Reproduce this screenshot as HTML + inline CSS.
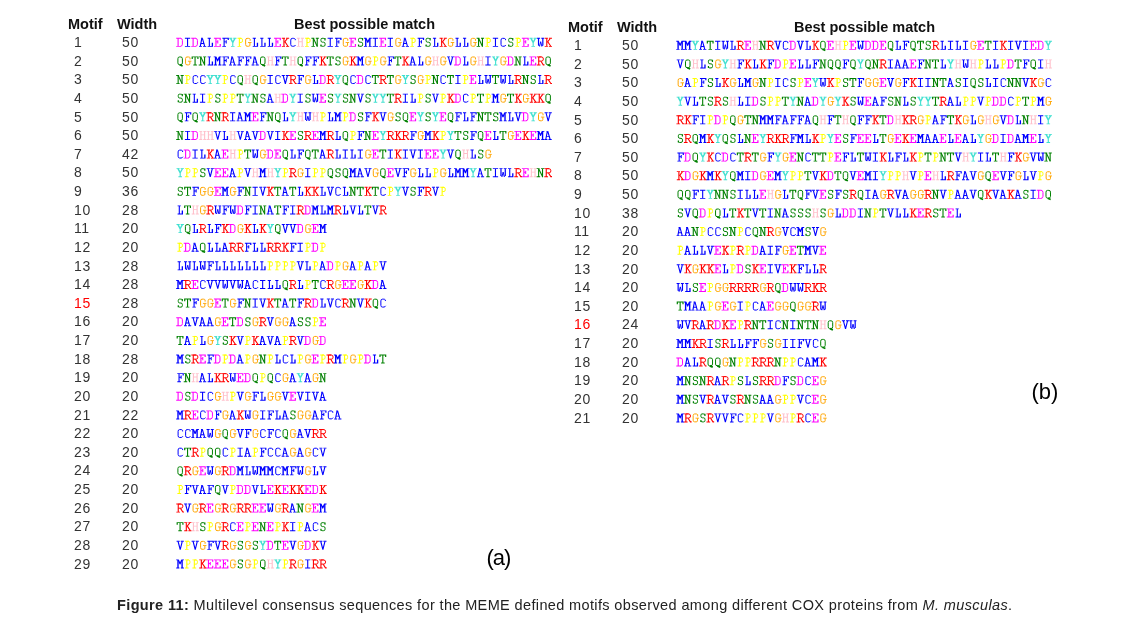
<!DOCTYPE html>
<html><head><meta charset="utf-8"><style>
html,body{margin:0;padding:0;background:#fff;}
body{width:1127px;height:617px;position:relative;overflow:hidden;}
.wrap{position:absolute;left:0;top:0;width:1127px;height:617px;will-change:transform}
.tbl{position:absolute;width:500px;height:580px;}
.hd{position:absolute;font-family:"Liberation Sans",sans-serif;font-weight:bold;font-size:14.5px;color:#111;top:17px;line-height:1;white-space:nowrap;letter-spacing:0px}
.hd.hm{left:68px} .hd.hw{left:117px} .hd.hb{left:294px}
.num{position:absolute;font-family:"Liberation Sans",sans-serif;font-size:14px;color:#333;line-height:1;white-space:nowrap;letter-spacing:0.6px}
.mn{left:74px} .wn{left:122px}
.red{color:#f00}
.seq{position:absolute;left:176px;font-family:"Liberation Mono",monospace;font-size:12.52px;font-weight:bold;line-height:1;white-space:nowrap;letter-spacing:0px}
i{font-style:normal}
.ov{position:absolute;left:0;top:0;filter:blur(0.3px)}
.b{color:#0000ff} .g{color:#008000} .m{color:#ff00ff} .r{color:#ff0000}
.o{color:#ffa500} .y{color:#ffff00} .p{color:#ffc0cb} .c{color:#40e0d0}
.lab{position:absolute;font-family:"Liberation Sans",sans-serif;font-size:22px;color:#000;line-height:1}
.cap{position:absolute;left:117px;top:597.5px;font-family:"Liberation Sans",sans-serif;font-size:14.5px;color:#222;white-space:nowrap;line-height:1;letter-spacing:0.37px}
</style></head><body><div class="wrap">
<svg class="ov" width="1127" height="617" viewBox="0 0 1127 617"><defs><g id="gI" fill="currentColor"><path d="M1.1 0H6.4V0.9H1.1ZM1.1 8.1H6.4V9H1.1ZM3.2 0H4.3V9H3.2Z"/></g><g id="gD" fill="currentColor"><path d="M-0.1 0H4.6V0.9H-0.1ZM-0.1 8.1H4.6V9H-0.1ZM1.25 0H2.35V9H1.25Z"/><path fill="none" stroke="currentColor" stroke-linejoin="round" stroke-width="1" d="M4.2,0.55 Q6.1,0.55 6.1,2.6 V6.4 Q6.1,8.45 4.2,8.45"/></g><g id="gA" fill="currentColor"><path d="M2.2 0H4V0.9H2.2ZM2 5.25H5.3V6.15H2ZM0.2 8.1H3.1V9H0.2ZM4.2 8.1H7.4V9H4.2Z"/><path fill="none" stroke="currentColor" stroke-linejoin="round" stroke-width="1.1" d="M3.0,0.6 L1.5,8.3 M3.6,0.6 L5.8,8.3"/></g><g id="gL" fill="currentColor"><path d="M1.3 0H4.5V0.9H1.3ZM2.45 0H3.55V9H2.45ZM1.3 8.1H6.7V9H1.3ZM5.4 5H6.7V9H5.4Z"/></g><g id="gE" fill="currentColor"><path d="M0.1 0H6.9V0.9H0.1ZM1.55 0H2.65V9H1.55ZM0.1 8.1H7V9H0.1ZM5.75 0H6.95V2.4H5.75ZM5.8 6.2H7V9H5.8ZM2.1 3.65H4.2V4.55H2.1ZM3.45 2.5H4.45V5.8H3.45Z"/></g><g id="gF" fill="currentColor"><path d="M1 0H7.5V0.9H1ZM2.2 0H3.3V9H2.2ZM1 8.1H4.6V9H1ZM6.3 0H7.5V2.3H6.3ZM2.75 3.65H5V4.55H2.75ZM4.35 2.4H5.35V5.7H4.35Z"/></g><g id="gY" fill="currentColor"><path d="M0.2 0H3.4V0.9H0.2ZM4.3 0H7.6V0.9H4.3ZM3.35 4.2H4.45V9H3.35ZM2.1 8.1H5.7V9H2.1Z"/><path fill="none" stroke="currentColor" stroke-linejoin="round" stroke-width="1.45" d="M1.7,0.5 L3.9,4.5"/><path fill="none" stroke="currentColor" stroke-linejoin="round" stroke-width="1.35" d="M6.1,0.5 L3.9,4.5"/></g><g id="gP" fill="currentColor"><path d="M1.1 0H5V0.9H1.1ZM2.45 0H3.55V9H2.45ZM1.1 8.1H4.8V9H1.1Z"/><path fill="none" stroke="currentColor" stroke-linejoin="round" stroke-width="1" d="M3.0,0.55 H4.8 Q6.1,0.55 6.1,2.2 V3.0 Q6.1,4.7 4.8,4.7 H3.0"/></g><g id="gG" fill="currentColor"><path d="M4.1 4.3H7.6V5.2H4.1Z"/><path fill="none" stroke="currentColor" stroke-linejoin="round" stroke-width="1" d="M6.25,3.0 V1.2 Q5.6,0.55 4.8,0.55 H3.2 Q1.75,0.55 1.75,2.2 V6.8 Q1.75,8.45 3.2,8.45 H4.8 Q6.05,8.45 6.05,7.4 V4.8"/></g><g id="gK" fill="currentColor"><path d="M0.4 0H3.6V0.9H0.4ZM1.95 0H3.05V9H1.95ZM0.4 8.1H3.6V9H0.4ZM4.6 0H7.7V0.9H4.6ZM4.6 8.1H7.7V9H4.6Z"/><path fill="none" stroke="currentColor" stroke-linejoin="round" stroke-width="1.1" d="M6.0,0.7 L2.9,4.6 M3.5,4.0 L6.5,8.4"/></g><g id="gC" fill="currentColor"><path fill="none" stroke="currentColor" stroke-linejoin="round" stroke-width="1" d="M6.3,2.4 V1.3 Q5.6,0.55 4.8,0.55 H3.3 Q1.8,0.55 1.8,2.3 V6.7 Q1.8,8.45 3.3,8.45 H4.9 Q5.9,8.45 6.6,7.2"/></g><g id="gH" fill="currentColor"><path d="M0.4 0H3.4V0.9H0.4ZM4.4 0H7.5V0.9H4.4ZM1.55 0H2.65V9H1.55ZM5.25 0H6.35V9H5.25ZM2.1 3.45H5.8V4.35H2.1ZM0.4 8.1H3.4V9H0.4ZM4.4 8.1H7.5V9H4.4Z"/></g><g id="gN" fill="currentColor"><path d="M-0.1 0H2.8V0.9H-0.1ZM4.3 0H7.4V0.9H4.3ZM1.3 0H2.4V9H1.3ZM5.2 0H6.3V9H5.2ZM-0.1 8.1H3.4V9H-0.1Z"/><path fill="none" stroke="currentColor" stroke-linejoin="round" stroke-width="1.1" d="M2.0,0.7 L5.7,8.4"/></g><g id="gS" fill="currentColor"><path d="M5.4 0.3H6.6V2.6H5.4ZM1.4 6.6H2.6V8.6H1.4Z"/><path fill="none" stroke="currentColor" stroke-linejoin="round" stroke-width="1" d="M6.0,1.3 Q5.5,0.5 4.2,0.5 H3.1 Q1.95,0.5 1.95,1.8 V2.8 Q1.95,4.4 3.5,4.4 H4.6 Q6.1,4.4 6.1,6.0 V7.0 Q6.1,8.5 4.6,8.5 H3.2 Q2.3,8.5 1.9,7.6"/></g><g id="gM" fill="currentColor"><path d="M-0.1 0H2.3V0.9H-0.1ZM5.2 0H7.6V0.9H5.2ZM1.02 0H2.38V9H1.02ZM5.12 0H6.47V9H5.12ZM-0.1 8.1H3.1V9H-0.1ZM4.5 8.1H7.6V9H4.5Z"/><path fill="none" stroke="currentColor" stroke-linejoin="round" stroke-width="1.3" d="M2.0,0.6 L3.75,4.4 L5.5,0.6"/></g><g id="gQ" fill="currentColor"><path fill="none" stroke="currentColor" stroke-linejoin="round" stroke-width="1" d="M3.1,0.55 H4.5 Q6.1,0.55 6.1,2.3 V6.5 Q6.1,8.25 4.5,8.25 H3.1 Q1.6,8.25 1.6,6.5 V2.3 Q1.6,0.55 3.1,0.55 Z"/><path fill="none" stroke="currentColor" stroke-linejoin="round" stroke-width="1.7" d="M3.3,8.4 L6.3,9.6"/></g><g id="gT" fill="currentColor"><path d="M0.3 0H7.2V0.9H0.3ZM0.3 0H1.5V2.6H0.3ZM6 0H7.2V2.6H6ZM3.2 0H4.3V9H3.2ZM2 8.1H5.6V9H2Z"/></g><g id="gR" fill="currentColor"><path d="M0 0H4.8V0.9H0ZM1.4 0H2.5V9H1.4ZM0 8.1H3.7V9H0Z"/><path fill="none" stroke="currentColor" stroke-linejoin="round" stroke-width="1" d="M1.95,0.55 H4.8 Q6.6,0.55 6.6,2.6 Q6.6,4.65 4.8,4.65 H1.95"/><path fill="none" stroke="currentColor" stroke-linejoin="round" stroke-width="1.1" d="M4.2,4.8 L6.5,8.45 H7.7"/></g><g id="gV" fill="currentColor"><path d="M0.3 0H3.4V0.9H0.3ZM4.4 0H7.5V0.9H4.4Z"/><path fill="none" stroke="currentColor" stroke-linejoin="round" stroke-width="1.1" d="M1.8,0.7 L3.9,8.7 M5.9,0.7 L3.9,8.7"/></g><g id="gW" fill="currentColor"><path d="M0.2 0H3.3V0.9H0.2ZM4.5 0H7.4V0.9H4.5ZM1.15 0H2.35V7.8H1.15ZM5.45 0H6.65V7.8H5.45Z"/><path fill="none" stroke="currentColor" stroke-linejoin="round" stroke-width="0.95" d="M2.0,7.4 L2.75,8.5 L3.9,3.9 L5.05,8.5 L5.8,7.4"/></g></defs><g transform="translate(176.3 37.8)"><use href="#gD" x="0" class="m"/><use href="#gI" x="7.51" class="b"/><use href="#gD" x="15.02" class="m"/><use href="#gA" x="22.53" class="b"/><use href="#gL" x="30.04" class="b"/><use href="#gE" x="37.55" class="m"/><use href="#gF" x="45.06" class="b"/><use href="#gY" x="52.57" class="c"/><use href="#gP" x="60.08" class="y"/><use href="#gG" x="67.59" class="o"/><use href="#gL" x="75.1" class="b"/><use href="#gL" x="82.61" class="b"/><use href="#gL" x="90.12" class="b"/><use href="#gE" x="97.63" class="m"/><use href="#gK" x="105.14" class="r"/><use href="#gC" x="112.65" class="b"/><use href="#gH" x="120.16" class="p"/><use href="#gP" x="127.67" class="y"/><use href="#gN" x="135.18" class="g"/><use href="#gS" x="142.69" class="g"/><use href="#gI" x="150.2" class="b"/><use href="#gF" x="157.71" class="b"/><use href="#gG" x="165.22" class="o"/><use href="#gE" x="172.73" class="m"/><use href="#gS" x="180.24" class="g"/><use href="#gM" x="187.75" class="b"/><use href="#gI" x="195.26" class="b"/><use href="#gE" x="202.77" class="m"/><use href="#gI" x="210.28" class="b"/><use href="#gG" x="217.79" class="o"/><use href="#gA" x="225.3" class="b"/><use href="#gP" x="232.81" class="y"/><use href="#gF" x="240.32" class="b"/><use href="#gS" x="247.83" class="g"/><use href="#gL" x="255.34" class="b"/><use href="#gK" x="262.85" class="r"/><use href="#gG" x="270.36" class="o"/><use href="#gL" x="277.87" class="b"/><use href="#gL" x="285.38" class="b"/><use href="#gG" x="292.89" class="o"/><use href="#gN" x="300.4" class="g"/><use href="#gP" x="307.91" class="y"/><use href="#gI" x="315.42" class="b"/><use href="#gC" x="322.93" class="b"/><use href="#gS" x="330.44" class="g"/><use href="#gP" x="337.95" class="y"/><use href="#gE" x="345.46" class="m"/><use href="#gY" x="352.97" class="c"/><use href="#gW" x="360.48" class="b"/><use href="#gK" x="367.99" class="r"/></g><g transform="translate(176.3 56.43)"><use href="#gQ" x="0" class="g"/><use href="#gG" x="7.51" class="o"/><use href="#gT" x="15.02" class="g"/><use href="#gN" x="22.53" class="g"/><use href="#gL" x="30.04" class="b"/><use href="#gM" x="37.55" class="b"/><use href="#gF" x="45.06" class="b"/><use href="#gA" x="52.57" class="b"/><use href="#gF" x="60.08" class="b"/><use href="#gF" x="67.59" class="b"/><use href="#gA" x="75.1" class="b"/><use href="#gQ" x="82.61" class="g"/><use href="#gH" x="90.12" class="p"/><use href="#gF" x="97.63" class="b"/><use href="#gT" x="105.14" class="g"/><use href="#gH" x="112.65" class="p"/><use href="#gQ" x="120.16" class="g"/><use href="#gF" x="127.67" class="b"/><use href="#gF" x="135.18" class="b"/><use href="#gK" x="142.69" class="r"/><use href="#gT" x="150.2" class="g"/><use href="#gS" x="157.71" class="g"/><use href="#gG" x="165.22" class="o"/><use href="#gK" x="172.73" class="r"/><use href="#gM" x="180.24" class="b"/><use href="#gG" x="187.75" class="o"/><use href="#gP" x="195.26" class="y"/><use href="#gG" x="202.77" class="o"/><use href="#gF" x="210.28" class="b"/><use href="#gT" x="217.79" class="g"/><use href="#gK" x="225.3" class="r"/><use href="#gA" x="232.81" class="b"/><use href="#gL" x="240.32" class="b"/><use href="#gG" x="247.83" class="o"/><use href="#gH" x="255.34" class="p"/><use href="#gG" x="262.85" class="o"/><use href="#gV" x="270.36" class="b"/><use href="#gD" x="277.87" class="m"/><use href="#gL" x="285.38" class="b"/><use href="#gG" x="292.89" class="o"/><use href="#gH" x="300.4" class="p"/><use href="#gI" x="307.91" class="b"/><use href="#gY" x="315.42" class="c"/><use href="#gG" x="322.93" class="o"/><use href="#gD" x="330.44" class="m"/><use href="#gN" x="337.95" class="g"/><use href="#gL" x="345.46" class="b"/><use href="#gE" x="352.97" class="m"/><use href="#gR" x="360.48" class="r"/><use href="#gQ" x="367.99" class="g"/></g><g transform="translate(176.3 75.06)"><use href="#gN" x="0" class="g"/><use href="#gP" x="7.51" class="y"/><use href="#gC" x="15.02" class="b"/><use href="#gC" x="22.53" class="b"/><use href="#gY" x="30.04" class="c"/><use href="#gY" x="37.55" class="c"/><use href="#gP" x="45.06" class="y"/><use href="#gC" x="52.57" class="b"/><use href="#gQ" x="60.08" class="g"/><use href="#gH" x="67.59" class="p"/><use href="#gQ" x="75.1" class="g"/><use href="#gG" x="82.61" class="o"/><use href="#gI" x="90.12" class="b"/><use href="#gC" x="97.63" class="b"/><use href="#gV" x="105.14" class="b"/><use href="#gR" x="112.65" class="r"/><use href="#gF" x="120.16" class="b"/><use href="#gG" x="127.67" class="o"/><use href="#gL" x="135.18" class="b"/><use href="#gD" x="142.69" class="m"/><use href="#gR" x="150.2" class="r"/><use href="#gY" x="157.71" class="c"/><use href="#gQ" x="165.22" class="g"/><use href="#gC" x="172.73" class="b"/><use href="#gD" x="180.24" class="m"/><use href="#gC" x="187.75" class="b"/><use href="#gT" x="195.26" class="g"/><use href="#gR" x="202.77" class="r"/><use href="#gT" x="210.28" class="g"/><use href="#gG" x="217.79" class="o"/><use href="#gY" x="225.3" class="c"/><use href="#gS" x="232.81" class="g"/><use href="#gG" x="240.32" class="o"/><use href="#gP" x="247.83" class="y"/><use href="#gN" x="255.34" class="g"/><use href="#gC" x="262.85" class="b"/><use href="#gT" x="270.36" class="g"/><use href="#gI" x="277.87" class="b"/><use href="#gP" x="285.38" class="y"/><use href="#gE" x="292.89" class="m"/><use href="#gL" x="300.4" class="b"/><use href="#gW" x="307.91" class="b"/><use href="#gT" x="315.42" class="g"/><use href="#gW" x="322.93" class="b"/><use href="#gL" x="330.44" class="b"/><use href="#gR" x="337.95" class="r"/><use href="#gN" x="345.46" class="g"/><use href="#gS" x="352.97" class="g"/><use href="#gL" x="360.48" class="b"/><use href="#gR" x="367.99" class="r"/></g><g transform="translate(176.3 93.69)"><use href="#gS" x="0" class="g"/><use href="#gN" x="7.51" class="g"/><use href="#gL" x="15.02" class="b"/><use href="#gI" x="22.53" class="b"/><use href="#gP" x="30.04" class="y"/><use href="#gS" x="37.55" class="g"/><use href="#gP" x="45.06" class="y"/><use href="#gP" x="52.57" class="y"/><use href="#gT" x="60.08" class="g"/><use href="#gY" x="67.59" class="c"/><use href="#gN" x="75.1" class="g"/><use href="#gS" x="82.61" class="g"/><use href="#gA" x="90.12" class="b"/><use href="#gH" x="97.63" class="p"/><use href="#gD" x="105.14" class="m"/><use href="#gY" x="112.65" class="c"/><use href="#gI" x="120.16" class="b"/><use href="#gS" x="127.67" class="g"/><use href="#gW" x="135.18" class="b"/><use href="#gE" x="142.69" class="m"/><use href="#gS" x="150.2" class="g"/><use href="#gY" x="157.71" class="c"/><use href="#gS" x="165.22" class="g"/><use href="#gN" x="172.73" class="g"/><use href="#gV" x="180.24" class="b"/><use href="#gS" x="187.75" class="g"/><use href="#gY" x="195.26" class="c"/><use href="#gY" x="202.77" class="c"/><use href="#gT" x="210.28" class="g"/><use href="#gR" x="217.79" class="r"/><use href="#gI" x="225.3" class="b"/><use href="#gL" x="232.81" class="b"/><use href="#gP" x="240.32" class="y"/><use href="#gS" x="247.83" class="g"/><use href="#gV" x="255.34" class="b"/><use href="#gP" x="262.85" class="y"/><use href="#gK" x="270.36" class="r"/><use href="#gD" x="277.87" class="m"/><use href="#gC" x="285.38" class="b"/><use href="#gP" x="292.89" class="y"/><use href="#gT" x="300.4" class="g"/><use href="#gP" x="307.91" class="y"/><use href="#gM" x="315.42" class="b"/><use href="#gG" x="322.93" class="o"/><use href="#gT" x="330.44" class="g"/><use href="#gK" x="337.95" class="r"/><use href="#gG" x="345.46" class="o"/><use href="#gK" x="352.97" class="r"/><use href="#gK" x="360.48" class="r"/><use href="#gQ" x="367.99" class="g"/></g><g transform="translate(176.3 112.32)"><use href="#gQ" x="0" class="g"/><use href="#gF" x="7.51" class="b"/><use href="#gQ" x="15.02" class="g"/><use href="#gY" x="22.53" class="c"/><use href="#gR" x="30.04" class="r"/><use href="#gN" x="37.55" class="g"/><use href="#gR" x="45.06" class="r"/><use href="#gI" x="52.57" class="b"/><use href="#gA" x="60.08" class="b"/><use href="#gM" x="67.59" class="b"/><use href="#gE" x="75.1" class="m"/><use href="#gF" x="82.61" class="b"/><use href="#gN" x="90.12" class="g"/><use href="#gQ" x="97.63" class="g"/><use href="#gL" x="105.14" class="b"/><use href="#gY" x="112.65" class="c"/><use href="#gH" x="120.16" class="p"/><use href="#gW" x="127.67" class="b"/><use href="#gH" x="135.18" class="p"/><use href="#gP" x="142.69" class="y"/><use href="#gL" x="150.2" class="b"/><use href="#gM" x="157.71" class="b"/><use href="#gP" x="165.22" class="y"/><use href="#gD" x="172.73" class="m"/><use href="#gS" x="180.24" class="g"/><use href="#gF" x="187.75" class="b"/><use href="#gK" x="195.26" class="r"/><use href="#gV" x="202.77" class="b"/><use href="#gG" x="210.28" class="o"/><use href="#gS" x="217.79" class="g"/><use href="#gQ" x="225.3" class="g"/><use href="#gE" x="232.81" class="m"/><use href="#gY" x="240.32" class="c"/><use href="#gS" x="247.83" class="g"/><use href="#gY" x="255.34" class="c"/><use href="#gE" x="262.85" class="m"/><use href="#gQ" x="270.36" class="g"/><use href="#gF" x="277.87" class="b"/><use href="#gL" x="285.38" class="b"/><use href="#gF" x="292.89" class="b"/><use href="#gN" x="300.4" class="g"/><use href="#gT" x="307.91" class="g"/><use href="#gS" x="315.42" class="g"/><use href="#gM" x="322.93" class="b"/><use href="#gL" x="330.44" class="b"/><use href="#gV" x="337.95" class="b"/><use href="#gD" x="345.46" class="m"/><use href="#gY" x="352.97" class="c"/><use href="#gG" x="360.48" class="o"/><use href="#gV" x="367.99" class="b"/></g><g transform="translate(176.3 130.95)"><use href="#gN" x="0" class="g"/><use href="#gI" x="7.51" class="b"/><use href="#gD" x="15.02" class="m"/><use href="#gH" x="22.53" class="p"/><use href="#gH" x="30.04" class="p"/><use href="#gV" x="37.55" class="b"/><use href="#gL" x="45.06" class="b"/><use href="#gH" x="52.57" class="p"/><use href="#gV" x="60.08" class="b"/><use href="#gA" x="67.59" class="b"/><use href="#gV" x="75.1" class="b"/><use href="#gD" x="82.61" class="m"/><use href="#gV" x="90.12" class="b"/><use href="#gI" x="97.63" class="b"/><use href="#gK" x="105.14" class="r"/><use href="#gE" x="112.65" class="m"/><use href="#gS" x="120.16" class="g"/><use href="#gR" x="127.67" class="r"/><use href="#gE" x="135.18" class="m"/><use href="#gM" x="142.69" class="b"/><use href="#gR" x="150.2" class="r"/><use href="#gL" x="157.71" class="b"/><use href="#gQ" x="165.22" class="g"/><use href="#gP" x="172.73" class="y"/><use href="#gF" x="180.24" class="b"/><use href="#gN" x="187.75" class="g"/><use href="#gE" x="195.26" class="m"/><use href="#gY" x="202.77" class="c"/><use href="#gR" x="210.28" class="r"/><use href="#gK" x="217.79" class="r"/><use href="#gR" x="225.3" class="r"/><use href="#gF" x="232.81" class="b"/><use href="#gG" x="240.32" class="o"/><use href="#gM" x="247.83" class="b"/><use href="#gK" x="255.34" class="r"/><use href="#gP" x="262.85" class="y"/><use href="#gY" x="270.36" class="c"/><use href="#gT" x="277.87" class="g"/><use href="#gS" x="285.38" class="g"/><use href="#gF" x="292.89" class="b"/><use href="#gQ" x="300.4" class="g"/><use href="#gE" x="307.91" class="m"/><use href="#gL" x="315.42" class="b"/><use href="#gT" x="322.93" class="g"/><use href="#gG" x="330.44" class="o"/><use href="#gE" x="337.95" class="m"/><use href="#gK" x="345.46" class="r"/><use href="#gE" x="352.97" class="m"/><use href="#gM" x="360.48" class="b"/><use href="#gA" x="367.99" class="b"/></g><g transform="translate(176.3 149.58)"><use href="#gC" x="0" class="b"/><use href="#gD" x="7.51" class="m"/><use href="#gI" x="15.02" class="b"/><use href="#gL" x="22.53" class="b"/><use href="#gK" x="30.04" class="r"/><use href="#gA" x="37.55" class="b"/><use href="#gE" x="45.06" class="m"/><use href="#gH" x="52.57" class="p"/><use href="#gP" x="60.08" class="y"/><use href="#gT" x="67.59" class="g"/><use href="#gW" x="75.1" class="b"/><use href="#gG" x="82.61" class="o"/><use href="#gD" x="90.12" class="m"/><use href="#gE" x="97.63" class="m"/><use href="#gQ" x="105.14" class="g"/><use href="#gL" x="112.65" class="b"/><use href="#gF" x="120.16" class="b"/><use href="#gQ" x="127.67" class="g"/><use href="#gT" x="135.18" class="g"/><use href="#gA" x="142.69" class="b"/><use href="#gR" x="150.2" class="r"/><use href="#gL" x="157.71" class="b"/><use href="#gI" x="165.22" class="b"/><use href="#gL" x="172.73" class="b"/><use href="#gI" x="180.24" class="b"/><use href="#gG" x="187.75" class="o"/><use href="#gE" x="195.26" class="m"/><use href="#gT" x="202.77" class="g"/><use href="#gI" x="210.28" class="b"/><use href="#gK" x="217.79" class="r"/><use href="#gI" x="225.3" class="b"/><use href="#gV" x="232.81" class="b"/><use href="#gI" x="240.32" class="b"/><use href="#gE" x="247.83" class="m"/><use href="#gE" x="255.34" class="m"/><use href="#gY" x="262.85" class="c"/><use href="#gV" x="270.36" class="b"/><use href="#gQ" x="277.87" class="g"/><use href="#gH" x="285.38" class="p"/><use href="#gL" x="292.89" class="b"/><use href="#gS" x="300.4" class="g"/><use href="#gG" x="307.91" class="o"/></g><g transform="translate(176.3 168.21)"><use href="#gY" x="0" class="c"/><use href="#gP" x="7.51" class="y"/><use href="#gP" x="15.02" class="y"/><use href="#gS" x="22.53" class="g"/><use href="#gV" x="30.04" class="b"/><use href="#gE" x="37.55" class="m"/><use href="#gE" x="45.06" class="m"/><use href="#gA" x="52.57" class="b"/><use href="#gP" x="60.08" class="y"/><use href="#gV" x="67.59" class="b"/><use href="#gH" x="75.1" class="p"/><use href="#gM" x="82.61" class="b"/><use href="#gH" x="90.12" class="p"/><use href="#gY" x="97.63" class="c"/><use href="#gP" x="105.14" class="y"/><use href="#gR" x="112.65" class="r"/><use href="#gG" x="120.16" class="o"/><use href="#gI" x="127.67" class="b"/><use href="#gP" x="135.18" class="y"/><use href="#gP" x="142.69" class="y"/><use href="#gQ" x="150.2" class="g"/><use href="#gS" x="157.71" class="g"/><use href="#gQ" x="165.22" class="g"/><use href="#gM" x="172.73" class="b"/><use href="#gA" x="180.24" class="b"/><use href="#gV" x="187.75" class="b"/><use href="#gG" x="195.26" class="o"/><use href="#gQ" x="202.77" class="g"/><use href="#gE" x="210.28" class="m"/><use href="#gV" x="217.79" class="b"/><use href="#gF" x="225.3" class="b"/><use href="#gG" x="232.81" class="o"/><use href="#gL" x="240.32" class="b"/><use href="#gL" x="247.83" class="b"/><use href="#gP" x="255.34" class="y"/><use href="#gG" x="262.85" class="o"/><use href="#gL" x="270.36" class="b"/><use href="#gM" x="277.87" class="b"/><use href="#gM" x="285.38" class="b"/><use href="#gY" x="292.89" class="c"/><use href="#gA" x="300.4" class="b"/><use href="#gT" x="307.91" class="g"/><use href="#gI" x="315.42" class="b"/><use href="#gW" x="322.93" class="b"/><use href="#gL" x="330.44" class="b"/><use href="#gR" x="337.95" class="r"/><use href="#gE" x="345.46" class="m"/><use href="#gH" x="352.97" class="p"/><use href="#gN" x="360.48" class="g"/><use href="#gR" x="367.99" class="r"/></g><g transform="translate(176.3 186.84)"><use href="#gS" x="0" class="g"/><use href="#gT" x="7.51" class="g"/><use href="#gF" x="15.02" class="b"/><use href="#gG" x="22.53" class="o"/><use href="#gG" x="30.04" class="o"/><use href="#gE" x="37.55" class="m"/><use href="#gM" x="45.06" class="b"/><use href="#gG" x="52.57" class="o"/><use href="#gF" x="60.08" class="b"/><use href="#gN" x="67.59" class="g"/><use href="#gI" x="75.1" class="b"/><use href="#gV" x="82.61" class="b"/><use href="#gK" x="90.12" class="r"/><use href="#gT" x="97.63" class="g"/><use href="#gA" x="105.14" class="b"/><use href="#gT" x="112.65" class="g"/><use href="#gL" x="120.16" class="b"/><use href="#gK" x="127.67" class="r"/><use href="#gK" x="135.18" class="r"/><use href="#gL" x="142.69" class="b"/><use href="#gV" x="150.2" class="b"/><use href="#gC" x="157.71" class="b"/><use href="#gL" x="165.22" class="b"/><use href="#gN" x="172.73" class="g"/><use href="#gT" x="180.24" class="g"/><use href="#gK" x="187.75" class="r"/><use href="#gT" x="195.26" class="g"/><use href="#gC" x="202.77" class="b"/><use href="#gP" x="210.28" class="y"/><use href="#gY" x="217.79" class="c"/><use href="#gV" x="225.3" class="b"/><use href="#gS" x="232.81" class="g"/><use href="#gF" x="240.32" class="b"/><use href="#gR" x="247.83" class="r"/><use href="#gV" x="255.34" class="b"/><use href="#gP" x="262.85" class="y"/></g><g transform="translate(176.3 205.47)"><use href="#gL" x="0" class="b"/><use href="#gT" x="7.51" class="g"/><use href="#gH" x="15.02" class="p"/><use href="#gG" x="22.53" class="o"/><use href="#gR" x="30.04" class="r"/><use href="#gW" x="37.55" class="b"/><use href="#gF" x="45.06" class="b"/><use href="#gW" x="52.57" class="b"/><use href="#gD" x="60.08" class="m"/><use href="#gF" x="67.59" class="b"/><use href="#gI" x="75.1" class="b"/><use href="#gN" x="82.61" class="g"/><use href="#gA" x="90.12" class="b"/><use href="#gT" x="97.63" class="g"/><use href="#gF" x="105.14" class="b"/><use href="#gI" x="112.65" class="b"/><use href="#gR" x="120.16" class="r"/><use href="#gD" x="127.67" class="m"/><use href="#gM" x="135.18" class="b"/><use href="#gL" x="142.69" class="b"/><use href="#gM" x="150.2" class="b"/><use href="#gR" x="157.71" class="r"/><use href="#gL" x="165.22" class="b"/><use href="#gV" x="172.73" class="b"/><use href="#gL" x="180.24" class="b"/><use href="#gT" x="187.75" class="g"/><use href="#gV" x="195.26" class="b"/><use href="#gR" x="202.77" class="r"/></g><g transform="translate(176.3 224.1)"><use href="#gY" x="0" class="c"/><use href="#gQ" x="7.51" class="g"/><use href="#gL" x="15.02" class="b"/><use href="#gR" x="22.53" class="r"/><use href="#gL" x="30.04" class="b"/><use href="#gF" x="37.55" class="b"/><use href="#gK" x="45.06" class="r"/><use href="#gD" x="52.57" class="m"/><use href="#gG" x="60.08" class="o"/><use href="#gK" x="67.59" class="r"/><use href="#gL" x="75.1" class="b"/><use href="#gK" x="82.61" class="r"/><use href="#gY" x="90.12" class="c"/><use href="#gQ" x="97.63" class="g"/><use href="#gV" x="105.14" class="b"/><use href="#gV" x="112.65" class="b"/><use href="#gD" x="120.16" class="m"/><use href="#gG" x="127.67" class="o"/><use href="#gE" x="135.18" class="m"/><use href="#gM" x="142.69" class="b"/></g><g transform="translate(176.3 242.73)"><use href="#gP" x="0" class="y"/><use href="#gD" x="7.51" class="m"/><use href="#gA" x="15.02" class="b"/><use href="#gQ" x="22.53" class="g"/><use href="#gL" x="30.04" class="b"/><use href="#gL" x="37.55" class="b"/><use href="#gA" x="45.06" class="b"/><use href="#gR" x="52.57" class="r"/><use href="#gR" x="60.08" class="r"/><use href="#gF" x="67.59" class="b"/><use href="#gL" x="75.1" class="b"/><use href="#gL" x="82.61" class="b"/><use href="#gR" x="90.12" class="r"/><use href="#gR" x="97.63" class="r"/><use href="#gK" x="105.14" class="r"/><use href="#gF" x="112.65" class="b"/><use href="#gI" x="120.16" class="b"/><use href="#gP" x="127.67" class="y"/><use href="#gD" x="135.18" class="m"/><use href="#gP" x="142.69" class="y"/></g><g transform="translate(176.3 261.36)"><use href="#gL" x="0" class="b"/><use href="#gW" x="7.51" class="b"/><use href="#gL" x="15.02" class="b"/><use href="#gW" x="22.53" class="b"/><use href="#gF" x="30.04" class="b"/><use href="#gL" x="37.55" class="b"/><use href="#gL" x="45.06" class="b"/><use href="#gL" x="52.57" class="b"/><use href="#gL" x="60.08" class="b"/><use href="#gL" x="67.59" class="b"/><use href="#gL" x="75.1" class="b"/><use href="#gL" x="82.61" class="b"/><use href="#gP" x="90.12" class="y"/><use href="#gP" x="97.63" class="y"/><use href="#gP" x="105.14" class="y"/><use href="#gP" x="112.65" class="y"/><use href="#gV" x="120.16" class="b"/><use href="#gL" x="127.67" class="b"/><use href="#gP" x="135.18" class="y"/><use href="#gA" x="142.69" class="b"/><use href="#gD" x="150.2" class="m"/><use href="#gP" x="157.71" class="y"/><use href="#gG" x="165.22" class="o"/><use href="#gA" x="172.73" class="b"/><use href="#gP" x="180.24" class="y"/><use href="#gA" x="187.75" class="b"/><use href="#gP" x="195.26" class="y"/><use href="#gV" x="202.77" class="b"/></g><g transform="translate(176.3 279.99)"><use href="#gM" x="0" class="b"/><use href="#gR" x="7.51" class="r"/><use href="#gE" x="15.02" class="m"/><use href="#gC" x="22.53" class="b"/><use href="#gV" x="30.04" class="b"/><use href="#gV" x="37.55" class="b"/><use href="#gW" x="45.06" class="b"/><use href="#gV" x="52.57" class="b"/><use href="#gW" x="60.08" class="b"/><use href="#gA" x="67.59" class="b"/><use href="#gC" x="75.1" class="b"/><use href="#gI" x="82.61" class="b"/><use href="#gL" x="90.12" class="b"/><use href="#gL" x="97.63" class="b"/><use href="#gQ" x="105.14" class="g"/><use href="#gR" x="112.65" class="r"/><use href="#gL" x="120.16" class="b"/><use href="#gP" x="127.67" class="y"/><use href="#gT" x="135.18" class="g"/><use href="#gC" x="142.69" class="b"/><use href="#gR" x="150.2" class="r"/><use href="#gG" x="157.71" class="o"/><use href="#gE" x="165.22" class="m"/><use href="#gE" x="172.73" class="m"/><use href="#gG" x="180.24" class="o"/><use href="#gK" x="187.75" class="r"/><use href="#gD" x="195.26" class="m"/><use href="#gA" x="202.77" class="b"/></g><g transform="translate(176.3 298.62)"><use href="#gS" x="0" class="g"/><use href="#gT" x="7.51" class="g"/><use href="#gF" x="15.02" class="b"/><use href="#gG" x="22.53" class="o"/><use href="#gG" x="30.04" class="o"/><use href="#gE" x="37.55" class="m"/><use href="#gT" x="45.06" class="g"/><use href="#gG" x="52.57" class="o"/><use href="#gF" x="60.08" class="b"/><use href="#gN" x="67.59" class="g"/><use href="#gI" x="75.1" class="b"/><use href="#gV" x="82.61" class="b"/><use href="#gK" x="90.12" class="r"/><use href="#gT" x="97.63" class="g"/><use href="#gA" x="105.14" class="b"/><use href="#gT" x="112.65" class="g"/><use href="#gF" x="120.16" class="b"/><use href="#gR" x="127.67" class="r"/><use href="#gD" x="135.18" class="m"/><use href="#gL" x="142.69" class="b"/><use href="#gV" x="150.2" class="b"/><use href="#gC" x="157.71" class="b"/><use href="#gR" x="165.22" class="r"/><use href="#gN" x="172.73" class="g"/><use href="#gV" x="180.24" class="b"/><use href="#gK" x="187.75" class="r"/><use href="#gQ" x="195.26" class="g"/><use href="#gC" x="202.77" class="b"/></g><g transform="translate(176.3 317.25)"><use href="#gD" x="0" class="m"/><use href="#gA" x="7.51" class="b"/><use href="#gV" x="15.02" class="b"/><use href="#gA" x="22.53" class="b"/><use href="#gA" x="30.04" class="b"/><use href="#gG" x="37.55" class="o"/><use href="#gE" x="45.06" class="m"/><use href="#gT" x="52.57" class="g"/><use href="#gD" x="60.08" class="m"/><use href="#gS" x="67.59" class="g"/><use href="#gG" x="75.1" class="o"/><use href="#gR" x="82.61" class="r"/><use href="#gV" x="90.12" class="b"/><use href="#gG" x="97.63" class="o"/><use href="#gG" x="105.14" class="o"/><use href="#gA" x="112.65" class="b"/><use href="#gS" x="120.16" class="g"/><use href="#gS" x="127.67" class="g"/><use href="#gP" x="135.18" class="y"/><use href="#gE" x="142.69" class="m"/></g><g transform="translate(176.3 335.88)"><use href="#gT" x="0" class="g"/><use href="#gA" x="7.51" class="b"/><use href="#gP" x="15.02" class="y"/><use href="#gL" x="22.53" class="b"/><use href="#gG" x="30.04" class="o"/><use href="#gY" x="37.55" class="c"/><use href="#gS" x="45.06" class="g"/><use href="#gK" x="52.57" class="r"/><use href="#gV" x="60.08" class="b"/><use href="#gP" x="67.59" class="y"/><use href="#gK" x="75.1" class="r"/><use href="#gA" x="82.61" class="b"/><use href="#gV" x="90.12" class="b"/><use href="#gA" x="97.63" class="b"/><use href="#gP" x="105.14" class="y"/><use href="#gR" x="112.65" class="r"/><use href="#gV" x="120.16" class="b"/><use href="#gD" x="127.67" class="m"/><use href="#gG" x="135.18" class="o"/><use href="#gD" x="142.69" class="m"/></g><g transform="translate(176.3 354.51)"><use href="#gM" x="0" class="b"/><use href="#gS" x="7.51" class="g"/><use href="#gR" x="15.02" class="r"/><use href="#gE" x="22.53" class="m"/><use href="#gF" x="30.04" class="b"/><use href="#gD" x="37.55" class="m"/><use href="#gP" x="45.06" class="y"/><use href="#gD" x="52.57" class="m"/><use href="#gA" x="60.08" class="b"/><use href="#gP" x="67.59" class="y"/><use href="#gG" x="75.1" class="o"/><use href="#gN" x="82.61" class="g"/><use href="#gP" x="90.12" class="y"/><use href="#gL" x="97.63" class="b"/><use href="#gC" x="105.14" class="b"/><use href="#gL" x="112.65" class="b"/><use href="#gP" x="120.16" class="y"/><use href="#gG" x="127.67" class="o"/><use href="#gE" x="135.18" class="m"/><use href="#gP" x="142.69" class="y"/><use href="#gR" x="150.2" class="r"/><use href="#gM" x="157.71" class="b"/><use href="#gP" x="165.22" class="y"/><use href="#gG" x="172.73" class="o"/><use href="#gP" x="180.24" class="y"/><use href="#gD" x="187.75" class="m"/><use href="#gL" x="195.26" class="b"/><use href="#gT" x="202.77" class="g"/></g><g transform="translate(176.3 373.14)"><use href="#gF" x="0" class="b"/><use href="#gN" x="7.51" class="g"/><use href="#gH" x="15.02" class="p"/><use href="#gA" x="22.53" class="b"/><use href="#gL" x="30.04" class="b"/><use href="#gK" x="37.55" class="r"/><use href="#gR" x="45.06" class="r"/><use href="#gW" x="52.57" class="b"/><use href="#gE" x="60.08" class="m"/><use href="#gD" x="67.59" class="m"/><use href="#gQ" x="75.1" class="g"/><use href="#gP" x="82.61" class="y"/><use href="#gQ" x="90.12" class="g"/><use href="#gC" x="97.63" class="b"/><use href="#gG" x="105.14" class="o"/><use href="#gA" x="112.65" class="b"/><use href="#gY" x="120.16" class="c"/><use href="#gA" x="127.67" class="b"/><use href="#gG" x="135.18" class="o"/><use href="#gN" x="142.69" class="g"/></g><g transform="translate(176.3 391.77)"><use href="#gD" x="0" class="m"/><use href="#gS" x="7.51" class="g"/><use href="#gD" x="15.02" class="m"/><use href="#gI" x="22.53" class="b"/><use href="#gC" x="30.04" class="b"/><use href="#gG" x="37.55" class="o"/><use href="#gH" x="45.06" class="p"/><use href="#gP" x="52.57" class="y"/><use href="#gV" x="60.08" class="b"/><use href="#gG" x="67.59" class="o"/><use href="#gF" x="75.1" class="b"/><use href="#gL" x="82.61" class="b"/><use href="#gG" x="90.12" class="o"/><use href="#gG" x="97.63" class="o"/><use href="#gV" x="105.14" class="b"/><use href="#gE" x="112.65" class="m"/><use href="#gV" x="120.16" class="b"/><use href="#gI" x="127.67" class="b"/><use href="#gV" x="135.18" class="b"/><use href="#gA" x="142.69" class="b"/></g><g transform="translate(176.3 410.4)"><use href="#gM" x="0" class="b"/><use href="#gR" x="7.51" class="r"/><use href="#gE" x="15.02" class="m"/><use href="#gC" x="22.53" class="b"/><use href="#gD" x="30.04" class="m"/><use href="#gF" x="37.55" class="b"/><use href="#gG" x="45.06" class="o"/><use href="#gA" x="52.57" class="b"/><use href="#gK" x="60.08" class="r"/><use href="#gW" x="67.59" class="b"/><use href="#gG" x="75.1" class="o"/><use href="#gI" x="82.61" class="b"/><use href="#gF" x="90.12" class="b"/><use href="#gL" x="97.63" class="b"/><use href="#gA" x="105.14" class="b"/><use href="#gS" x="112.65" class="g"/><use href="#gG" x="120.16" class="o"/><use href="#gG" x="127.67" class="o"/><use href="#gA" x="135.18" class="b"/><use href="#gF" x="142.69" class="b"/><use href="#gC" x="150.2" class="b"/><use href="#gA" x="157.71" class="b"/></g><g transform="translate(176.3 429.03)"><use href="#gC" x="0" class="b"/><use href="#gC" x="7.51" class="b"/><use href="#gM" x="15.02" class="b"/><use href="#gA" x="22.53" class="b"/><use href="#gW" x="30.04" class="b"/><use href="#gG" x="37.55" class="o"/><use href="#gQ" x="45.06" class="g"/><use href="#gG" x="52.57" class="o"/><use href="#gV" x="60.08" class="b"/><use href="#gF" x="67.59" class="b"/><use href="#gG" x="75.1" class="o"/><use href="#gC" x="82.61" class="b"/><use href="#gF" x="90.12" class="b"/><use href="#gC" x="97.63" class="b"/><use href="#gQ" x="105.14" class="g"/><use href="#gG" x="112.65" class="o"/><use href="#gA" x="120.16" class="b"/><use href="#gV" x="127.67" class="b"/><use href="#gR" x="135.18" class="r"/><use href="#gR" x="142.69" class="r"/></g><g transform="translate(176.3 447.66)"><use href="#gC" x="0" class="b"/><use href="#gT" x="7.51" class="g"/><use href="#gR" x="15.02" class="r"/><use href="#gP" x="22.53" class="y"/><use href="#gQ" x="30.04" class="g"/><use href="#gQ" x="37.55" class="g"/><use href="#gC" x="45.06" class="b"/><use href="#gP" x="52.57" class="y"/><use href="#gI" x="60.08" class="b"/><use href="#gA" x="67.59" class="b"/><use href="#gP" x="75.1" class="y"/><use href="#gF" x="82.61" class="b"/><use href="#gC" x="90.12" class="b"/><use href="#gC" x="97.63" class="b"/><use href="#gA" x="105.14" class="b"/><use href="#gG" x="112.65" class="o"/><use href="#gA" x="120.16" class="b"/><use href="#gG" x="127.67" class="o"/><use href="#gC" x="135.18" class="b"/><use href="#gV" x="142.69" class="b"/></g><g transform="translate(176.3 466.29)"><use href="#gQ" x="0" class="g"/><use href="#gR" x="7.51" class="r"/><use href="#gG" x="15.02" class="o"/><use href="#gE" x="22.53" class="m"/><use href="#gW" x="30.04" class="b"/><use href="#gG" x="37.55" class="o"/><use href="#gR" x="45.06" class="r"/><use href="#gD" x="52.57" class="m"/><use href="#gM" x="60.08" class="b"/><use href="#gL" x="67.59" class="b"/><use href="#gW" x="75.1" class="b"/><use href="#gM" x="82.61" class="b"/><use href="#gM" x="90.12" class="b"/><use href="#gC" x="97.63" class="b"/><use href="#gM" x="105.14" class="b"/><use href="#gF" x="112.65" class="b"/><use href="#gW" x="120.16" class="b"/><use href="#gG" x="127.67" class="o"/><use href="#gL" x="135.18" class="b"/><use href="#gV" x="142.69" class="b"/></g><g transform="translate(176.3 484.92)"><use href="#gP" x="0" class="y"/><use href="#gF" x="7.51" class="b"/><use href="#gV" x="15.02" class="b"/><use href="#gA" x="22.53" class="b"/><use href="#gF" x="30.04" class="b"/><use href="#gQ" x="37.55" class="g"/><use href="#gV" x="45.06" class="b"/><use href="#gP" x="52.57" class="y"/><use href="#gD" x="60.08" class="m"/><use href="#gD" x="67.59" class="m"/><use href="#gV" x="75.1" class="b"/><use href="#gL" x="82.61" class="b"/><use href="#gE" x="90.12" class="m"/><use href="#gK" x="97.63" class="r"/><use href="#gE" x="105.14" class="m"/><use href="#gK" x="112.65" class="r"/><use href="#gK" x="120.16" class="r"/><use href="#gE" x="127.67" class="m"/><use href="#gD" x="135.18" class="m"/><use href="#gK" x="142.69" class="r"/></g><g transform="translate(176.3 503.55)"><use href="#gR" x="0" class="r"/><use href="#gV" x="7.51" class="b"/><use href="#gG" x="15.02" class="o"/><use href="#gR" x="22.53" class="r"/><use href="#gE" x="30.04" class="m"/><use href="#gG" x="37.55" class="o"/><use href="#gR" x="45.06" class="r"/><use href="#gG" x="52.57" class="o"/><use href="#gR" x="60.08" class="r"/><use href="#gR" x="67.59" class="r"/><use href="#gE" x="75.1" class="m"/><use href="#gE" x="82.61" class="m"/><use href="#gW" x="90.12" class="b"/><use href="#gG" x="97.63" class="o"/><use href="#gR" x="105.14" class="r"/><use href="#gA" x="112.65" class="b"/><use href="#gN" x="120.16" class="g"/><use href="#gG" x="127.67" class="o"/><use href="#gE" x="135.18" class="m"/><use href="#gM" x="142.69" class="b"/></g><g transform="translate(176.3 522.18)"><use href="#gT" x="0" class="g"/><use href="#gK" x="7.51" class="r"/><use href="#gH" x="15.02" class="p"/><use href="#gS" x="22.53" class="g"/><use href="#gP" x="30.04" class="y"/><use href="#gG" x="37.55" class="o"/><use href="#gR" x="45.06" class="r"/><use href="#gC" x="52.57" class="b"/><use href="#gE" x="60.08" class="m"/><use href="#gP" x="67.59" class="y"/><use href="#gE" x="75.1" class="m"/><use href="#gN" x="82.61" class="g"/><use href="#gE" x="90.12" class="m"/><use href="#gP" x="97.63" class="y"/><use href="#gK" x="105.14" class="r"/><use href="#gI" x="112.65" class="b"/><use href="#gP" x="120.16" class="y"/><use href="#gA" x="127.67" class="b"/><use href="#gC" x="135.18" class="b"/><use href="#gS" x="142.69" class="g"/></g><g transform="translate(176.3 540.81)"><use href="#gV" x="0" class="b"/><use href="#gP" x="7.51" class="y"/><use href="#gV" x="15.02" class="b"/><use href="#gG" x="22.53" class="o"/><use href="#gF" x="30.04" class="b"/><use href="#gV" x="37.55" class="b"/><use href="#gR" x="45.06" class="r"/><use href="#gG" x="52.57" class="o"/><use href="#gS" x="60.08" class="g"/><use href="#gG" x="67.59" class="o"/><use href="#gS" x="75.1" class="g"/><use href="#gY" x="82.61" class="c"/><use href="#gD" x="90.12" class="m"/><use href="#gT" x="97.63" class="g"/><use href="#gE" x="105.14" class="m"/><use href="#gV" x="112.65" class="b"/><use href="#gG" x="120.16" class="o"/><use href="#gD" x="127.67" class="m"/><use href="#gK" x="135.18" class="r"/><use href="#gV" x="142.69" class="b"/></g><g transform="translate(176.3 559.44)"><use href="#gM" x="0" class="b"/><use href="#gP" x="7.51" class="y"/><use href="#gP" x="15.02" class="y"/><use href="#gK" x="22.53" class="r"/><use href="#gE" x="30.04" class="m"/><use href="#gE" x="37.55" class="m"/><use href="#gE" x="45.06" class="m"/><use href="#gG" x="52.57" class="o"/><use href="#gS" x="60.08" class="g"/><use href="#gG" x="67.59" class="o"/><use href="#gP" x="75.1" class="y"/><use href="#gQ" x="82.61" class="g"/><use href="#gH" x="90.12" class="p"/><use href="#gY" x="97.63" class="c"/><use href="#gP" x="105.14" class="y"/><use href="#gR" x="112.65" class="r"/><use href="#gG" x="120.16" class="o"/><use href="#gI" x="127.67" class="b"/><use href="#gR" x="135.18" class="r"/><use href="#gR" x="142.69" class="r"/></g><g transform="translate(676.4 40.8)"><use href="#gM" x="0" class="b"/><use href="#gM" x="7.51" class="b"/><use href="#gY" x="15.02" class="c"/><use href="#gA" x="22.53" class="b"/><use href="#gT" x="30.04" class="g"/><use href="#gI" x="37.55" class="b"/><use href="#gW" x="45.06" class="b"/><use href="#gL" x="52.57" class="b"/><use href="#gR" x="60.08" class="r"/><use href="#gE" x="67.59" class="m"/><use href="#gH" x="75.1" class="p"/><use href="#gN" x="82.61" class="g"/><use href="#gR" x="90.12" class="r"/><use href="#gV" x="97.63" class="b"/><use href="#gC" x="105.14" class="b"/><use href="#gD" x="112.65" class="m"/><use href="#gV" x="120.16" class="b"/><use href="#gL" x="127.67" class="b"/><use href="#gK" x="135.18" class="r"/><use href="#gQ" x="142.69" class="g"/><use href="#gE" x="150.2" class="m"/><use href="#gH" x="157.71" class="p"/><use href="#gP" x="165.22" class="y"/><use href="#gE" x="172.73" class="m"/><use href="#gW" x="180.24" class="b"/><use href="#gD" x="187.75" class="m"/><use href="#gD" x="195.26" class="m"/><use href="#gE" x="202.77" class="m"/><use href="#gQ" x="210.28" class="g"/><use href="#gL" x="217.79" class="b"/><use href="#gF" x="225.3" class="b"/><use href="#gQ" x="232.81" class="g"/><use href="#gT" x="240.32" class="g"/><use href="#gS" x="247.83" class="g"/><use href="#gR" x="255.34" class="r"/><use href="#gL" x="262.85" class="b"/><use href="#gI" x="270.36" class="b"/><use href="#gL" x="277.87" class="b"/><use href="#gI" x="285.38" class="b"/><use href="#gG" x="292.89" class="o"/><use href="#gE" x="300.4" class="m"/><use href="#gT" x="307.91" class="g"/><use href="#gI" x="315.42" class="b"/><use href="#gK" x="322.93" class="r"/><use href="#gI" x="330.44" class="b"/><use href="#gV" x="337.95" class="b"/><use href="#gI" x="345.46" class="b"/><use href="#gE" x="352.97" class="m"/><use href="#gD" x="360.48" class="m"/><use href="#gY" x="367.99" class="c"/></g><g transform="translate(676.4 59.43)"><use href="#gV" x="0" class="b"/><use href="#gQ" x="7.51" class="g"/><use href="#gH" x="15.02" class="p"/><use href="#gL" x="22.53" class="b"/><use href="#gS" x="30.04" class="g"/><use href="#gG" x="37.55" class="o"/><use href="#gY" x="45.06" class="c"/><use href="#gH" x="52.57" class="p"/><use href="#gF" x="60.08" class="b"/><use href="#gK" x="67.59" class="r"/><use href="#gL" x="75.1" class="b"/><use href="#gK" x="82.61" class="r"/><use href="#gF" x="90.12" class="b"/><use href="#gD" x="97.63" class="m"/><use href="#gP" x="105.14" class="y"/><use href="#gE" x="112.65" class="m"/><use href="#gL" x="120.16" class="b"/><use href="#gL" x="127.67" class="b"/><use href="#gF" x="135.18" class="b"/><use href="#gN" x="142.69" class="g"/><use href="#gQ" x="150.2" class="g"/><use href="#gQ" x="157.71" class="g"/><use href="#gF" x="165.22" class="b"/><use href="#gQ" x="172.73" class="g"/><use href="#gY" x="180.24" class="c"/><use href="#gQ" x="187.75" class="g"/><use href="#gN" x="195.26" class="g"/><use href="#gR" x="202.77" class="r"/><use href="#gI" x="210.28" class="b"/><use href="#gA" x="217.79" class="b"/><use href="#gA" x="225.3" class="b"/><use href="#gE" x="232.81" class="m"/><use href="#gF" x="240.32" class="b"/><use href="#gN" x="247.83" class="g"/><use href="#gT" x="255.34" class="g"/><use href="#gL" x="262.85" class="b"/><use href="#gY" x="270.36" class="c"/><use href="#gH" x="277.87" class="p"/><use href="#gW" x="285.38" class="b"/><use href="#gH" x="292.89" class="p"/><use href="#gP" x="300.4" class="y"/><use href="#gL" x="307.91" class="b"/><use href="#gL" x="315.42" class="b"/><use href="#gP" x="322.93" class="y"/><use href="#gD" x="330.44" class="m"/><use href="#gT" x="337.95" class="g"/><use href="#gF" x="345.46" class="b"/><use href="#gQ" x="352.97" class="g"/><use href="#gI" x="360.48" class="b"/><use href="#gH" x="367.99" class="p"/></g><g transform="translate(676.4 78.06)"><use href="#gG" x="0" class="o"/><use href="#gA" x="7.51" class="b"/><use href="#gP" x="15.02" class="y"/><use href="#gF" x="22.53" class="b"/><use href="#gS" x="30.04" class="g"/><use href="#gL" x="37.55" class="b"/><use href="#gK" x="45.06" class="r"/><use href="#gG" x="52.57" class="o"/><use href="#gL" x="60.08" class="b"/><use href="#gM" x="67.59" class="b"/><use href="#gG" x="75.1" class="o"/><use href="#gN" x="82.61" class="g"/><use href="#gP" x="90.12" class="y"/><use href="#gI" x="97.63" class="b"/><use href="#gC" x="105.14" class="b"/><use href="#gS" x="112.65" class="g"/><use href="#gP" x="120.16" class="y"/><use href="#gE" x="127.67" class="m"/><use href="#gY" x="135.18" class="c"/><use href="#gW" x="142.69" class="b"/><use href="#gK" x="150.2" class="r"/><use href="#gP" x="157.71" class="y"/><use href="#gS" x="165.22" class="g"/><use href="#gT" x="172.73" class="g"/><use href="#gF" x="180.24" class="b"/><use href="#gG" x="187.75" class="o"/><use href="#gG" x="195.26" class="o"/><use href="#gE" x="202.77" class="m"/><use href="#gV" x="210.28" class="b"/><use href="#gG" x="217.79" class="o"/><use href="#gF" x="225.3" class="b"/><use href="#gK" x="232.81" class="r"/><use href="#gI" x="240.32" class="b"/><use href="#gI" x="247.83" class="b"/><use href="#gN" x="255.34" class="g"/><use href="#gT" x="262.85" class="g"/><use href="#gA" x="270.36" class="b"/><use href="#gS" x="277.87" class="g"/><use href="#gI" x="285.38" class="b"/><use href="#gQ" x="292.89" class="g"/><use href="#gS" x="300.4" class="g"/><use href="#gL" x="307.91" class="b"/><use href="#gI" x="315.42" class="b"/><use href="#gC" x="322.93" class="b"/><use href="#gN" x="330.44" class="g"/><use href="#gN" x="337.95" class="g"/><use href="#gV" x="345.46" class="b"/><use href="#gK" x="352.97" class="r"/><use href="#gG" x="360.48" class="o"/><use href="#gC" x="367.99" class="b"/></g><g transform="translate(676.4 96.69)"><use href="#gY" x="0" class="c"/><use href="#gV" x="7.51" class="b"/><use href="#gL" x="15.02" class="b"/><use href="#gT" x="22.53" class="g"/><use href="#gS" x="30.04" class="g"/><use href="#gR" x="37.55" class="r"/><use href="#gS" x="45.06" class="g"/><use href="#gH" x="52.57" class="p"/><use href="#gL" x="60.08" class="b"/><use href="#gI" x="67.59" class="b"/><use href="#gD" x="75.1" class="m"/><use href="#gS" x="82.61" class="g"/><use href="#gP" x="90.12" class="y"/><use href="#gP" x="97.63" class="y"/><use href="#gT" x="105.14" class="g"/><use href="#gY" x="112.65" class="c"/><use href="#gN" x="120.16" class="g"/><use href="#gA" x="127.67" class="b"/><use href="#gD" x="135.18" class="m"/><use href="#gY" x="142.69" class="c"/><use href="#gG" x="150.2" class="o"/><use href="#gY" x="157.71" class="c"/><use href="#gK" x="165.22" class="r"/><use href="#gS" x="172.73" class="g"/><use href="#gW" x="180.24" class="b"/><use href="#gE" x="187.75" class="m"/><use href="#gA" x="195.26" class="b"/><use href="#gF" x="202.77" class="b"/><use href="#gS" x="210.28" class="g"/><use href="#gN" x="217.79" class="g"/><use href="#gL" x="225.3" class="b"/><use href="#gS" x="232.81" class="g"/><use href="#gY" x="240.32" class="c"/><use href="#gY" x="247.83" class="c"/><use href="#gT" x="255.34" class="g"/><use href="#gR" x="262.85" class="r"/><use href="#gA" x="270.36" class="b"/><use href="#gL" x="277.87" class="b"/><use href="#gP" x="285.38" class="y"/><use href="#gP" x="292.89" class="y"/><use href="#gV" x="300.4" class="b"/><use href="#gP" x="307.91" class="y"/><use href="#gD" x="315.42" class="m"/><use href="#gD" x="322.93" class="m"/><use href="#gC" x="330.44" class="b"/><use href="#gP" x="337.95" class="y"/><use href="#gT" x="345.46" class="g"/><use href="#gP" x="352.97" class="y"/><use href="#gM" x="360.48" class="b"/><use href="#gG" x="367.99" class="o"/></g><g transform="translate(676.4 115.32)"><use href="#gR" x="0" class="r"/><use href="#gK" x="7.51" class="r"/><use href="#gF" x="15.02" class="b"/><use href="#gI" x="22.53" class="b"/><use href="#gP" x="30.04" class="y"/><use href="#gD" x="37.55" class="m"/><use href="#gP" x="45.06" class="y"/><use href="#gQ" x="52.57" class="g"/><use href="#gG" x="60.08" class="o"/><use href="#gT" x="67.59" class="g"/><use href="#gN" x="75.1" class="g"/><use href="#gM" x="82.61" class="b"/><use href="#gM" x="90.12" class="b"/><use href="#gF" x="97.63" class="b"/><use href="#gA" x="105.14" class="b"/><use href="#gF" x="112.65" class="b"/><use href="#gF" x="120.16" class="b"/><use href="#gA" x="127.67" class="b"/><use href="#gQ" x="135.18" class="g"/><use href="#gH" x="142.69" class="p"/><use href="#gF" x="150.2" class="b"/><use href="#gT" x="157.71" class="g"/><use href="#gH" x="165.22" class="p"/><use href="#gQ" x="172.73" class="g"/><use href="#gF" x="180.24" class="b"/><use href="#gF" x="187.75" class="b"/><use href="#gK" x="195.26" class="r"/><use href="#gT" x="202.77" class="g"/><use href="#gD" x="210.28" class="m"/><use href="#gH" x="217.79" class="p"/><use href="#gK" x="225.3" class="r"/><use href="#gR" x="232.81" class="r"/><use href="#gG" x="240.32" class="o"/><use href="#gP" x="247.83" class="y"/><use href="#gA" x="255.34" class="b"/><use href="#gF" x="262.85" class="b"/><use href="#gT" x="270.36" class="g"/><use href="#gK" x="277.87" class="r"/><use href="#gG" x="285.38" class="o"/><use href="#gL" x="292.89" class="b"/><use href="#gG" x="300.4" class="o"/><use href="#gH" x="307.91" class="p"/><use href="#gG" x="315.42" class="o"/><use href="#gV" x="322.93" class="b"/><use href="#gD" x="330.44" class="m"/><use href="#gL" x="337.95" class="b"/><use href="#gN" x="345.46" class="g"/><use href="#gH" x="352.97" class="p"/><use href="#gI" x="360.48" class="b"/><use href="#gY" x="367.99" class="c"/></g><g transform="translate(676.4 133.95)"><use href="#gS" x="0" class="g"/><use href="#gR" x="7.51" class="r"/><use href="#gQ" x="15.02" class="g"/><use href="#gM" x="22.53" class="b"/><use href="#gK" x="30.04" class="r"/><use href="#gY" x="37.55" class="c"/><use href="#gQ" x="45.06" class="g"/><use href="#gS" x="52.57" class="g"/><use href="#gL" x="60.08" class="b"/><use href="#gN" x="67.59" class="g"/><use href="#gE" x="75.1" class="m"/><use href="#gY" x="82.61" class="c"/><use href="#gR" x="90.12" class="r"/><use href="#gK" x="97.63" class="r"/><use href="#gR" x="105.14" class="r"/><use href="#gF" x="112.65" class="b"/><use href="#gM" x="120.16" class="b"/><use href="#gL" x="127.67" class="b"/><use href="#gK" x="135.18" class="r"/><use href="#gP" x="142.69" class="y"/><use href="#gY" x="150.2" class="c"/><use href="#gE" x="157.71" class="m"/><use href="#gS" x="165.22" class="g"/><use href="#gF" x="172.73" class="b"/><use href="#gE" x="180.24" class="m"/><use href="#gE" x="187.75" class="m"/><use href="#gL" x="195.26" class="b"/><use href="#gT" x="202.77" class="g"/><use href="#gG" x="210.28" class="o"/><use href="#gE" x="217.79" class="m"/><use href="#gK" x="225.3" class="r"/><use href="#gE" x="232.81" class="m"/><use href="#gM" x="240.32" class="b"/><use href="#gA" x="247.83" class="b"/><use href="#gA" x="255.34" class="b"/><use href="#gE" x="262.85" class="m"/><use href="#gL" x="270.36" class="b"/><use href="#gE" x="277.87" class="m"/><use href="#gA" x="285.38" class="b"/><use href="#gL" x="292.89" class="b"/><use href="#gY" x="300.4" class="c"/><use href="#gG" x="307.91" class="o"/><use href="#gD" x="315.42" class="m"/><use href="#gI" x="322.93" class="b"/><use href="#gD" x="330.44" class="m"/><use href="#gA" x="337.95" class="b"/><use href="#gM" x="345.46" class="b"/><use href="#gE" x="352.97" class="m"/><use href="#gL" x="360.48" class="b"/><use href="#gY" x="367.99" class="c"/></g><g transform="translate(676.4 152.58)"><use href="#gF" x="0" class="b"/><use href="#gD" x="7.51" class="m"/><use href="#gQ" x="15.02" class="g"/><use href="#gY" x="22.53" class="c"/><use href="#gK" x="30.04" class="r"/><use href="#gC" x="37.55" class="b"/><use href="#gD" x="45.06" class="m"/><use href="#gC" x="52.57" class="b"/><use href="#gT" x="60.08" class="g"/><use href="#gR" x="67.59" class="r"/><use href="#gT" x="75.1" class="g"/><use href="#gG" x="82.61" class="o"/><use href="#gF" x="90.12" class="b"/><use href="#gY" x="97.63" class="c"/><use href="#gG" x="105.14" class="o"/><use href="#gE" x="112.65" class="m"/><use href="#gN" x="120.16" class="g"/><use href="#gC" x="127.67" class="b"/><use href="#gT" x="135.18" class="g"/><use href="#gT" x="142.69" class="g"/><use href="#gP" x="150.2" class="y"/><use href="#gE" x="157.71" class="m"/><use href="#gF" x="165.22" class="b"/><use href="#gL" x="172.73" class="b"/><use href="#gT" x="180.24" class="g"/><use href="#gW" x="187.75" class="b"/><use href="#gI" x="195.26" class="b"/><use href="#gK" x="202.77" class="r"/><use href="#gL" x="210.28" class="b"/><use href="#gF" x="217.79" class="b"/><use href="#gL" x="225.3" class="b"/><use href="#gK" x="232.81" class="r"/><use href="#gP" x="240.32" class="y"/><use href="#gT" x="247.83" class="g"/><use href="#gP" x="255.34" class="y"/><use href="#gN" x="262.85" class="g"/><use href="#gT" x="270.36" class="g"/><use href="#gV" x="277.87" class="b"/><use href="#gH" x="285.38" class="p"/><use href="#gY" x="292.89" class="c"/><use href="#gI" x="300.4" class="b"/><use href="#gL" x="307.91" class="b"/><use href="#gT" x="315.42" class="g"/><use href="#gH" x="322.93" class="p"/><use href="#gF" x="330.44" class="b"/><use href="#gK" x="337.95" class="r"/><use href="#gG" x="345.46" class="o"/><use href="#gV" x="352.97" class="b"/><use href="#gW" x="360.48" class="b"/><use href="#gN" x="367.99" class="g"/></g><g transform="translate(676.4 171.21)"><use href="#gK" x="0" class="r"/><use href="#gD" x="7.51" class="m"/><use href="#gG" x="15.02" class="o"/><use href="#gK" x="22.53" class="r"/><use href="#gM" x="30.04" class="b"/><use href="#gK" x="37.55" class="r"/><use href="#gY" x="45.06" class="c"/><use href="#gQ" x="52.57" class="g"/><use href="#gM" x="60.08" class="b"/><use href="#gI" x="67.59" class="b"/><use href="#gD" x="75.1" class="m"/><use href="#gG" x="82.61" class="o"/><use href="#gE" x="90.12" class="m"/><use href="#gM" x="97.63" class="b"/><use href="#gY" x="105.14" class="c"/><use href="#gP" x="112.65" class="y"/><use href="#gP" x="120.16" class="y"/><use href="#gT" x="127.67" class="g"/><use href="#gV" x="135.18" class="b"/><use href="#gK" x="142.69" class="r"/><use href="#gD" x="150.2" class="m"/><use href="#gT" x="157.71" class="g"/><use href="#gQ" x="165.22" class="g"/><use href="#gV" x="172.73" class="b"/><use href="#gE" x="180.24" class="m"/><use href="#gM" x="187.75" class="b"/><use href="#gI" x="195.26" class="b"/><use href="#gY" x="202.77" class="c"/><use href="#gP" x="210.28" class="y"/><use href="#gP" x="217.79" class="y"/><use href="#gH" x="225.3" class="p"/><use href="#gV" x="232.81" class="b"/><use href="#gP" x="240.32" class="y"/><use href="#gE" x="247.83" class="m"/><use href="#gH" x="255.34" class="p"/><use href="#gL" x="262.85" class="b"/><use href="#gR" x="270.36" class="r"/><use href="#gF" x="277.87" class="b"/><use href="#gA" x="285.38" class="b"/><use href="#gV" x="292.89" class="b"/><use href="#gG" x="300.4" class="o"/><use href="#gQ" x="307.91" class="g"/><use href="#gE" x="315.42" class="m"/><use href="#gV" x="322.93" class="b"/><use href="#gF" x="330.44" class="b"/><use href="#gG" x="337.95" class="o"/><use href="#gL" x="345.46" class="b"/><use href="#gV" x="352.97" class="b"/><use href="#gP" x="360.48" class="y"/><use href="#gG" x="367.99" class="o"/></g><g transform="translate(676.4 189.84)"><use href="#gQ" x="0" class="g"/><use href="#gQ" x="7.51" class="g"/><use href="#gF" x="15.02" class="b"/><use href="#gI" x="22.53" class="b"/><use href="#gY" x="30.04" class="c"/><use href="#gN" x="37.55" class="g"/><use href="#gN" x="45.06" class="g"/><use href="#gS" x="52.57" class="g"/><use href="#gI" x="60.08" class="b"/><use href="#gL" x="67.59" class="b"/><use href="#gL" x="75.1" class="b"/><use href="#gE" x="82.61" class="m"/><use href="#gH" x="90.12" class="p"/><use href="#gG" x="97.63" class="o"/><use href="#gL" x="105.14" class="b"/><use href="#gT" x="112.65" class="g"/><use href="#gQ" x="120.16" class="g"/><use href="#gF" x="127.67" class="b"/><use href="#gV" x="135.18" class="b"/><use href="#gE" x="142.69" class="m"/><use href="#gS" x="150.2" class="g"/><use href="#gF" x="157.71" class="b"/><use href="#gS" x="165.22" class="g"/><use href="#gR" x="172.73" class="r"/><use href="#gQ" x="180.24" class="g"/><use href="#gI" x="187.75" class="b"/><use href="#gA" x="195.26" class="b"/><use href="#gG" x="202.77" class="o"/><use href="#gR" x="210.28" class="r"/><use href="#gV" x="217.79" class="b"/><use href="#gA" x="225.3" class="b"/><use href="#gG" x="232.81" class="o"/><use href="#gG" x="240.32" class="o"/><use href="#gR" x="247.83" class="r"/><use href="#gN" x="255.34" class="g"/><use href="#gV" x="262.85" class="b"/><use href="#gP" x="270.36" class="y"/><use href="#gA" x="277.87" class="b"/><use href="#gA" x="285.38" class="b"/><use href="#gV" x="292.89" class="b"/><use href="#gQ" x="300.4" class="g"/><use href="#gK" x="307.91" class="r"/><use href="#gV" x="315.42" class="b"/><use href="#gA" x="322.93" class="b"/><use href="#gK" x="330.44" class="r"/><use href="#gA" x="337.95" class="b"/><use href="#gS" x="345.46" class="g"/><use href="#gI" x="352.97" class="b"/><use href="#gD" x="360.48" class="m"/><use href="#gQ" x="367.99" class="g"/></g><g transform="translate(676.4 208.47)"><use href="#gS" x="0" class="g"/><use href="#gV" x="7.51" class="b"/><use href="#gQ" x="15.02" class="g"/><use href="#gD" x="22.53" class="m"/><use href="#gP" x="30.04" class="y"/><use href="#gQ" x="37.55" class="g"/><use href="#gL" x="45.06" class="b"/><use href="#gT" x="52.57" class="g"/><use href="#gK" x="60.08" class="r"/><use href="#gT" x="67.59" class="g"/><use href="#gV" x="75.1" class="b"/><use href="#gT" x="82.61" class="g"/><use href="#gI" x="90.12" class="b"/><use href="#gN" x="97.63" class="g"/><use href="#gA" x="105.14" class="b"/><use href="#gS" x="112.65" class="g"/><use href="#gS" x="120.16" class="g"/><use href="#gS" x="127.67" class="g"/><use href="#gH" x="135.18" class="p"/><use href="#gS" x="142.69" class="g"/><use href="#gG" x="150.2" class="o"/><use href="#gL" x="157.71" class="b"/><use href="#gD" x="165.22" class="m"/><use href="#gD" x="172.73" class="m"/><use href="#gI" x="180.24" class="b"/><use href="#gN" x="187.75" class="g"/><use href="#gP" x="195.26" class="y"/><use href="#gT" x="202.77" class="g"/><use href="#gV" x="210.28" class="b"/><use href="#gL" x="217.79" class="b"/><use href="#gL" x="225.3" class="b"/><use href="#gK" x="232.81" class="r"/><use href="#gE" x="240.32" class="m"/><use href="#gR" x="247.83" class="r"/><use href="#gS" x="255.34" class="g"/><use href="#gT" x="262.85" class="g"/><use href="#gE" x="270.36" class="m"/><use href="#gL" x="277.87" class="b"/></g><g transform="translate(676.4 227.1)"><use href="#gA" x="0" class="b"/><use href="#gA" x="7.51" class="b"/><use href="#gN" x="15.02" class="g"/><use href="#gP" x="22.53" class="y"/><use href="#gC" x="30.04" class="b"/><use href="#gC" x="37.55" class="b"/><use href="#gS" x="45.06" class="g"/><use href="#gN" x="52.57" class="g"/><use href="#gP" x="60.08" class="y"/><use href="#gC" x="67.59" class="b"/><use href="#gQ" x="75.1" class="g"/><use href="#gN" x="82.61" class="g"/><use href="#gR" x="90.12" class="r"/><use href="#gG" x="97.63" class="o"/><use href="#gV" x="105.14" class="b"/><use href="#gC" x="112.65" class="b"/><use href="#gM" x="120.16" class="b"/><use href="#gS" x="127.67" class="g"/><use href="#gV" x="135.18" class="b"/><use href="#gG" x="142.69" class="o"/></g><g transform="translate(676.4 245.73)"><use href="#gP" x="0" class="y"/><use href="#gA" x="7.51" class="b"/><use href="#gL" x="15.02" class="b"/><use href="#gL" x="22.53" class="b"/><use href="#gV" x="30.04" class="b"/><use href="#gE" x="37.55" class="m"/><use href="#gK" x="45.06" class="r"/><use href="#gP" x="52.57" class="y"/><use href="#gR" x="60.08" class="r"/><use href="#gP" x="67.59" class="y"/><use href="#gD" x="75.1" class="m"/><use href="#gA" x="82.61" class="b"/><use href="#gI" x="90.12" class="b"/><use href="#gF" x="97.63" class="b"/><use href="#gG" x="105.14" class="o"/><use href="#gE" x="112.65" class="m"/><use href="#gT" x="120.16" class="g"/><use href="#gM" x="127.67" class="b"/><use href="#gV" x="135.18" class="b"/><use href="#gE" x="142.69" class="m"/></g><g transform="translate(676.4 264.36)"><use href="#gV" x="0" class="b"/><use href="#gK" x="7.51" class="r"/><use href="#gG" x="15.02" class="o"/><use href="#gK" x="22.53" class="r"/><use href="#gK" x="30.04" class="r"/><use href="#gE" x="37.55" class="m"/><use href="#gL" x="45.06" class="b"/><use href="#gP" x="52.57" class="y"/><use href="#gD" x="60.08" class="m"/><use href="#gS" x="67.59" class="g"/><use href="#gK" x="75.1" class="r"/><use href="#gE" x="82.61" class="m"/><use href="#gI" x="90.12" class="b"/><use href="#gV" x="97.63" class="b"/><use href="#gE" x="105.14" class="m"/><use href="#gK" x="112.65" class="r"/><use href="#gF" x="120.16" class="b"/><use href="#gL" x="127.67" class="b"/><use href="#gL" x="135.18" class="b"/><use href="#gR" x="142.69" class="r"/></g><g transform="translate(676.4 282.99)"><use href="#gW" x="0" class="b"/><use href="#gL" x="7.51" class="b"/><use href="#gS" x="15.02" class="g"/><use href="#gE" x="22.53" class="m"/><use href="#gP" x="30.04" class="y"/><use href="#gG" x="37.55" class="o"/><use href="#gG" x="45.06" class="o"/><use href="#gR" x="52.57" class="r"/><use href="#gR" x="60.08" class="r"/><use href="#gR" x="67.59" class="r"/><use href="#gR" x="75.1" class="r"/><use href="#gG" x="82.61" class="o"/><use href="#gR" x="90.12" class="r"/><use href="#gQ" x="97.63" class="g"/><use href="#gD" x="105.14" class="m"/><use href="#gW" x="112.65" class="b"/><use href="#gW" x="120.16" class="b"/><use href="#gR" x="127.67" class="r"/><use href="#gK" x="135.18" class="r"/><use href="#gR" x="142.69" class="r"/></g><g transform="translate(676.4 301.62)"><use href="#gT" x="0" class="g"/><use href="#gM" x="7.51" class="b"/><use href="#gA" x="15.02" class="b"/><use href="#gA" x="22.53" class="b"/><use href="#gP" x="30.04" class="y"/><use href="#gG" x="37.55" class="o"/><use href="#gE" x="45.06" class="m"/><use href="#gG" x="52.57" class="o"/><use href="#gI" x="60.08" class="b"/><use href="#gP" x="67.59" class="y"/><use href="#gC" x="75.1" class="b"/><use href="#gA" x="82.61" class="b"/><use href="#gE" x="90.12" class="m"/><use href="#gG" x="97.63" class="o"/><use href="#gG" x="105.14" class="o"/><use href="#gQ" x="112.65" class="g"/><use href="#gG" x="120.16" class="o"/><use href="#gG" x="127.67" class="o"/><use href="#gR" x="135.18" class="r"/><use href="#gW" x="142.69" class="b"/></g><g transform="translate(676.4 320.25)"><use href="#gW" x="0" class="b"/><use href="#gV" x="7.51" class="b"/><use href="#gR" x="15.02" class="r"/><use href="#gA" x="22.53" class="b"/><use href="#gR" x="30.04" class="r"/><use href="#gD" x="37.55" class="m"/><use href="#gK" x="45.06" class="r"/><use href="#gE" x="52.57" class="m"/><use href="#gP" x="60.08" class="y"/><use href="#gR" x="67.59" class="r"/><use href="#gN" x="75.1" class="g"/><use href="#gT" x="82.61" class="g"/><use href="#gI" x="90.12" class="b"/><use href="#gC" x="97.63" class="b"/><use href="#gN" x="105.14" class="g"/><use href="#gI" x="112.65" class="b"/><use href="#gN" x="120.16" class="g"/><use href="#gT" x="127.67" class="g"/><use href="#gN" x="135.18" class="g"/><use href="#gH" x="142.69" class="p"/><use href="#gQ" x="150.2" class="g"/><use href="#gG" x="157.71" class="o"/><use href="#gV" x="165.22" class="b"/><use href="#gW" x="172.73" class="b"/></g><g transform="translate(676.4 338.88)"><use href="#gM" x="0" class="b"/><use href="#gM" x="7.51" class="b"/><use href="#gK" x="15.02" class="r"/><use href="#gR" x="22.53" class="r"/><use href="#gI" x="30.04" class="b"/><use href="#gS" x="37.55" class="g"/><use href="#gR" x="45.06" class="r"/><use href="#gL" x="52.57" class="b"/><use href="#gL" x="60.08" class="b"/><use href="#gF" x="67.59" class="b"/><use href="#gF" x="75.1" class="b"/><use href="#gG" x="82.61" class="o"/><use href="#gS" x="90.12" class="g"/><use href="#gG" x="97.63" class="o"/><use href="#gI" x="105.14" class="b"/><use href="#gI" x="112.65" class="b"/><use href="#gF" x="120.16" class="b"/><use href="#gV" x="127.67" class="b"/><use href="#gC" x="135.18" class="b"/><use href="#gQ" x="142.69" class="g"/></g><g transform="translate(676.4 357.51)"><use href="#gD" x="0" class="m"/><use href="#gA" x="7.51" class="b"/><use href="#gL" x="15.02" class="b"/><use href="#gR" x="22.53" class="r"/><use href="#gQ" x="30.04" class="g"/><use href="#gQ" x="37.55" class="g"/><use href="#gG" x="45.06" class="o"/><use href="#gN" x="52.57" class="g"/><use href="#gP" x="60.08" class="y"/><use href="#gP" x="67.59" class="y"/><use href="#gR" x="75.1" class="r"/><use href="#gR" x="82.61" class="r"/><use href="#gR" x="90.12" class="r"/><use href="#gN" x="97.63" class="g"/><use href="#gP" x="105.14" class="y"/><use href="#gP" x="112.65" class="y"/><use href="#gC" x="120.16" class="b"/><use href="#gA" x="127.67" class="b"/><use href="#gM" x="135.18" class="b"/><use href="#gK" x="142.69" class="r"/></g><g transform="translate(676.4 376.14)"><use href="#gM" x="0" class="b"/><use href="#gN" x="7.51" class="g"/><use href="#gS" x="15.02" class="g"/><use href="#gN" x="22.53" class="g"/><use href="#gR" x="30.04" class="r"/><use href="#gA" x="37.55" class="b"/><use href="#gR" x="45.06" class="r"/><use href="#gP" x="52.57" class="y"/><use href="#gS" x="60.08" class="g"/><use href="#gL" x="67.59" class="b"/><use href="#gS" x="75.1" class="g"/><use href="#gR" x="82.61" class="r"/><use href="#gR" x="90.12" class="r"/><use href="#gD" x="97.63" class="m"/><use href="#gF" x="105.14" class="b"/><use href="#gS" x="112.65" class="g"/><use href="#gD" x="120.16" class="m"/><use href="#gC" x="127.67" class="b"/><use href="#gE" x="135.18" class="m"/><use href="#gG" x="142.69" class="o"/></g><g transform="translate(676.4 394.77)"><use href="#gM" x="0" class="b"/><use href="#gN" x="7.51" class="g"/><use href="#gS" x="15.02" class="g"/><use href="#gV" x="22.53" class="b"/><use href="#gR" x="30.04" class="r"/><use href="#gA" x="37.55" class="b"/><use href="#gV" x="45.06" class="b"/><use href="#gS" x="52.57" class="g"/><use href="#gR" x="60.08" class="r"/><use href="#gN" x="67.59" class="g"/><use href="#gS" x="75.1" class="g"/><use href="#gA" x="82.61" class="b"/><use href="#gA" x="90.12" class="b"/><use href="#gG" x="97.63" class="o"/><use href="#gP" x="105.14" class="y"/><use href="#gP" x="112.65" class="y"/><use href="#gV" x="120.16" class="b"/><use href="#gC" x="127.67" class="b"/><use href="#gE" x="135.18" class="m"/><use href="#gG" x="142.69" class="o"/></g><g transform="translate(676.4 413.4)"><use href="#gM" x="0" class="b"/><use href="#gR" x="7.51" class="r"/><use href="#gG" x="15.02" class="o"/><use href="#gS" x="22.53" class="g"/><use href="#gR" x="30.04" class="r"/><use href="#gV" x="37.55" class="b"/><use href="#gV" x="45.06" class="b"/><use href="#gF" x="52.57" class="b"/><use href="#gC" x="60.08" class="b"/><use href="#gP" x="67.59" class="y"/><use href="#gP" x="75.1" class="y"/><use href="#gP" x="82.61" class="y"/><use href="#gV" x="90.12" class="b"/><use href="#gG" x="97.63" class="o"/><use href="#gH" x="105.14" class="p"/><use href="#gP" x="112.65" class="y"/><use href="#gR" x="120.16" class="r"/><use href="#gC" x="127.67" class="b"/><use href="#gE" x="135.18" class="m"/><use href="#gG" x="142.69" class="o"/></g></svg>
<div class="tbl" style="left:0px;top:0px">
<div class="hd hm">Motif</div><div class="hd hw">Width</div><div class="hd hb">Best possible match</div>
<div class="num mn" style="top:35.00px">1</div>
<div class="num wn" style="top:35.00px">50</div>
<div class="num mn" style="top:53.63px">2</div>
<div class="num wn" style="top:53.63px">50</div>
<div class="num mn" style="top:72.26px">3</div>
<div class="num wn" style="top:72.26px">50</div>
<div class="num mn" style="top:90.89px">4</div>
<div class="num wn" style="top:90.89px">50</div>
<div class="num mn" style="top:109.52px">5</div>
<div class="num wn" style="top:109.52px">50</div>
<div class="num mn" style="top:128.15px">6</div>
<div class="num wn" style="top:128.15px">50</div>
<div class="num mn" style="top:146.78px">7</div>
<div class="num wn" style="top:146.78px">42</div>
<div class="num mn" style="top:165.41px">8</div>
<div class="num wn" style="top:165.41px">50</div>
<div class="num mn" style="top:184.04px">9</div>
<div class="num wn" style="top:184.04px">36</div>
<div class="num mn" style="top:202.67px">10</div>
<div class="num wn" style="top:202.67px">28</div>
<div class="num mn" style="top:221.30px">11</div>
<div class="num wn" style="top:221.30px">20</div>
<div class="num mn" style="top:239.93px">12</div>
<div class="num wn" style="top:239.93px">20</div>
<div class="num mn" style="top:258.56px">13</div>
<div class="num wn" style="top:258.56px">28</div>
<div class="num mn" style="top:277.19px">14</div>
<div class="num wn" style="top:277.19px">28</div>
<div class="num mn red" style="top:295.82px">15</div>
<div class="num wn" style="top:295.82px">28</div>
<div class="num mn" style="top:314.45px">16</div>
<div class="num wn" style="top:314.45px">20</div>
<div class="num mn" style="top:333.08px">17</div>
<div class="num wn" style="top:333.08px">20</div>
<div class="num mn" style="top:351.71px">18</div>
<div class="num wn" style="top:351.71px">28</div>
<div class="num mn" style="top:370.34px">19</div>
<div class="num wn" style="top:370.34px">20</div>
<div class="num mn" style="top:388.97px">20</div>
<div class="num wn" style="top:388.97px">20</div>
<div class="num mn" style="top:407.60px">21</div>
<div class="num wn" style="top:407.60px">22</div>
<div class="num mn" style="top:426.23px">22</div>
<div class="num wn" style="top:426.23px">20</div>
<div class="num mn" style="top:444.86px">23</div>
<div class="num wn" style="top:444.86px">20</div>
<div class="num mn" style="top:463.49px">24</div>
<div class="num wn" style="top:463.49px">20</div>
<div class="num mn" style="top:482.12px">25</div>
<div class="num wn" style="top:482.12px">20</div>
<div class="num mn" style="top:500.75px">26</div>
<div class="num wn" style="top:500.75px">20</div>
<div class="num mn" style="top:519.38px">27</div>
<div class="num wn" style="top:519.38px">20</div>
<div class="num mn" style="top:538.01px">28</div>
<div class="num wn" style="top:538.01px">20</div>
<div class="num mn" style="top:556.64px">29</div>
<div class="num wn" style="top:556.64px">20</div>
</div>
<div class="tbl" style="left:500px;top:3px">
<div class="hd hm">Motif</div><div class="hd hw">Width</div><div class="hd hb">Best possible match</div>
<div class="num mn" style="top:35.00px">1</div>
<div class="num wn" style="top:35.00px">50</div>
<div class="num mn" style="top:53.63px">2</div>
<div class="num wn" style="top:53.63px">50</div>
<div class="num mn" style="top:72.26px">3</div>
<div class="num wn" style="top:72.26px">50</div>
<div class="num mn" style="top:90.89px">4</div>
<div class="num wn" style="top:90.89px">50</div>
<div class="num mn" style="top:109.52px">5</div>
<div class="num wn" style="top:109.52px">50</div>
<div class="num mn" style="top:128.15px">6</div>
<div class="num wn" style="top:128.15px">50</div>
<div class="num mn" style="top:146.78px">7</div>
<div class="num wn" style="top:146.78px">50</div>
<div class="num mn" style="top:165.41px">8</div>
<div class="num wn" style="top:165.41px">50</div>
<div class="num mn" style="top:184.04px">9</div>
<div class="num wn" style="top:184.04px">50</div>
<div class="num mn" style="top:202.67px">10</div>
<div class="num wn" style="top:202.67px">38</div>
<div class="num mn" style="top:221.30px">11</div>
<div class="num wn" style="top:221.30px">20</div>
<div class="num mn" style="top:239.93px">12</div>
<div class="num wn" style="top:239.93px">20</div>
<div class="num mn" style="top:258.56px">13</div>
<div class="num wn" style="top:258.56px">20</div>
<div class="num mn" style="top:277.19px">14</div>
<div class="num wn" style="top:277.19px">20</div>
<div class="num mn" style="top:295.82px">15</div>
<div class="num wn" style="top:295.82px">20</div>
<div class="num mn red" style="top:314.45px">16</div>
<div class="num wn" style="top:314.45px">24</div>
<div class="num mn" style="top:333.08px">17</div>
<div class="num wn" style="top:333.08px">20</div>
<div class="num mn" style="top:351.71px">18</div>
<div class="num wn" style="top:351.71px">20</div>
<div class="num mn" style="top:370.34px">19</div>
<div class="num wn" style="top:370.34px">20</div>
<div class="num mn" style="top:388.97px">20</div>
<div class="num wn" style="top:388.97px">20</div>
<div class="num mn" style="top:407.60px">21</div>
<div class="num wn" style="top:407.60px">20</div>
</div>
<div class="lab" style="left:486.5px;top:546.5px;letter-spacing:-1px">(a)</div>
<div class="lab" style="left:1031.5px;top:380.5px">(b)</div>
<div class="cap"><b>Figure 11:</b> Multilevel consensus sequences for the MEME defined motifs observed among different COX proteins from <i style="font-style:italic">M. musculas</i>.</div>
</div></body></html>
